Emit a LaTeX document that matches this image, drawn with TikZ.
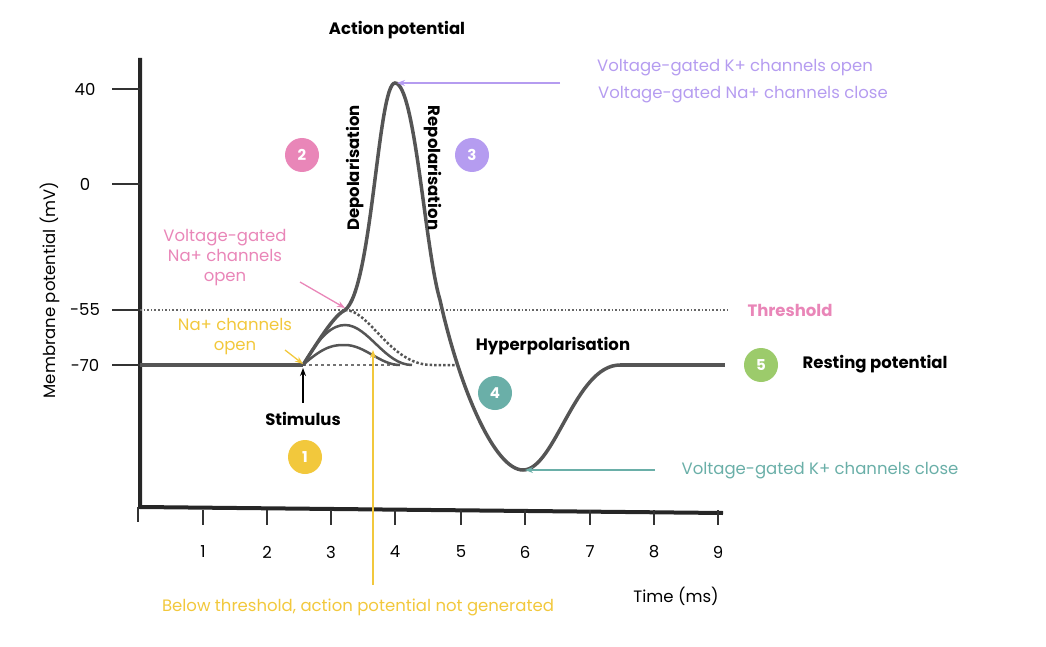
\documentclass[tikz,border=0pt]{standalone}
\usepackage{fontspec}
\setmainfont{Poppins}
\usetikzlibrary{arrows.meta}
\definecolor{apink}{HTML}{E986B8}
\definecolor{apurple}{HTML}{B59CF0}
\definecolor{ateal}{HTML}{6AAFA8}
\definecolor{ayellow}{HTML}{F2C83C}
\definecolor{agreen}{HTML}{9CCB6B}
\definecolor{acurve}{HTML}{555555}
\tikzset{
  stepnum/.style={circle, fill=#1, text=white, minimum size=34pt, inner sep=0pt, font=\bfseries\fontsize{15}{15}\selectfont},
  lbl/.style={font=\fontsize{16.5}{20}\selectfont, align=center},
  blbl/.style={font=\bfseries\fontsize{16.5}{20}\selectfont},
  ptr/.style={-{Stealth[length=8pt,width=6pt]}, line width=1.3pt},
  curve/.style={acurve, line width=3.5pt}
}
\begin{document}
\begin{tikzpicture}[x=1pt,y=-1pt]
        \useasboundingbox (0,0) rectangle (1046,647);
        % axes
        \draw [line width=4pt, black!85] (140,58) -- (140,507) -- (723,513);
        \foreach \x/\t in {203/1,267/2,331/3,395/4,461/5,525/6,590/7,654/8,718/9} {
            \draw [line width=1.4pt, black!80] (\x,510) -- (\x,525);
            \node [lbl] at (\x,552) {\t};
        }
        \draw [line width=1.4pt, black!80] (138,507) -- (138,522);
        \foreach \y/\t in {89/40,184/0,310/-55,365/-70} {
            \draw [line width=1.4pt, black!80] (112,\y) -- (140,\y);
            \node [lbl] at (85,\y) {\t};
        }
        \node [lbl, rotate=90] (ylab) at (50,290) {Membrane potential (mV)};
        \node [lbl] (xlab) at (676,596) {Time (ms)};
        % threshold and rest
        \draw [line width=1.6pt, dotted, black!60] (140,310) -- (728,310);
        \draw [curve] (140,365) -- (303,365);
        \draw [line width=1.6pt, dashed, black!55] (303,365) -- (400,365);
        \draw [curve] (620,365) -- (725,365);
        % sub-threshold bumps
        \draw [acurve, line width=2.5pt] (303,365) .. controls (325,345) and (335,345) .. (345,345) .. controls (365,345) and (380,365) .. (400,365);
        \draw [acurve, line width=2.5pt] (303,365) .. controls (320,335) and (333,325) .. (345,325) .. controls (368,325) and (385,365) .. (412,365);
        \draw [acurve, line width=2.5pt, dotted] (345,310) .. controls (370,310) and (390,365) .. (432,365) -- (455,365);
        % action potential
        \draw [curve] (303,365) .. controls (322,335) and (335,315) .. (345,310)
            .. controls (372,290) and (378,83) .. (395,83)
            .. controls (415,83) and (425,250) .. (440,300)
            .. controls (460,390) and (495,470) .. (523,470)
            .. controls (555,470) and (575,365) .. (620,365);
        % points
        \coordinate (peak) at (397,83);
        \coordinate (thr) at (345,308);
        \coordinate (start) at (303,364);
        \coordinate (trough) at (525,470);
        \coordinate (stim) at (303,368);
        \coordinate (below) at (373,350);
        % labels
        \node [blbl] (title) at (397,30) {Action potential};
        \node [blbl, rotate=90] (depol) at (355,168) {Depolarisation};
        \node [blbl, rotate=-90] (repol) at (433,168) {Repolarisation};
        \node [blbl] (hyper) at (553,346) {Hyperpolarisation};
        \node [blbl, text=apink] (thresh) at (790,310) {Threshold};
        \node [blbl] (rest) at (875,364) {Resting potential};
        \node [blbl] (stimlbl) at (303,419) {Stimulus};
        \node [lbl, text=apurple] (kopen) at (735,68) {Voltage-gated K+ channels open};
        \node [lbl, text=apurple] (naclose) at (743,95) {Voltage-gated Na+ channels close};
        \node [lbl, text=ateal] (kclose) at (820,471) {Voltage-gated K+ channels close};
        \node [lbl, text=apink] (naopen) at (225,258) {Voltage-gated\\Na+ channels\\open};
        \node [lbl, text=ayellow] (nachan) at (235,337) {Na+ channels\\open};
        \node [lbl, text=ayellow] (belowlbl) at (358,607) {Below threshold, action potential not generated};
        % step markers
        \node [stepnum=ayellow] (s1) at (305,457) {1};
        \node [stepnum=apink] (s2) at (302,155) {2};
        \node [stepnum=apurple] (s3) at (472,155) {3};
        \node [stepnum=ateal] (s4) at (495,393) {4};
        \node [stepnum=agreen] (s5) at (761,365) {5};
        % pointers
        \draw [ptr, apurple] (560,83) -- (peak);
        \draw [ptr, ateal] (655,470) -- (trough);
        \draw [ptr, apink] (300,282) -- (thr);
        \draw [ptr, ayellow] (285,350) -- (start);
        \draw [ptr, black] (stimlbl.north) ++(0,-6) -- (stim);
        \draw [ptr, ayellow] (373,585) -- (below);
\end{tikzpicture}
\end{document}
